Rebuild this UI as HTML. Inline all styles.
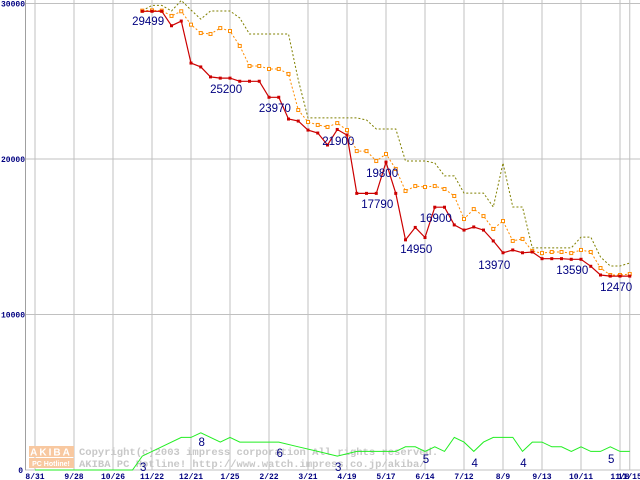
<!DOCTYPE html>
<html><head><meta charset="utf-8"><style>
html,body{margin:0;padding:0;background:#fff;width:640px;height:480px;overflow:hidden}
svg{display:block}
</style></head><body>
<svg id="chart" width="640" height="480" xmlns="http://www.w3.org/2000/svg">
<g id="grid"></g>
<g id="wm">
 <rect x="29" y="446" width="45" height="11" fill="#f8c8a0"/>
 <text x="51" y="455.5" font-family="Liberation Sans, sans-serif" font-size="10" font-weight="bold" fill="#fff" text-anchor="middle" letter-spacing="2">AKIBA</text>
 <rect x="29" y="458" width="45" height="10" fill="#f8c8a0"/>
 <text x="51" y="466" font-family="Liberation Sans, sans-serif" font-size="7" font-weight="bold" fill="#fff" text-anchor="middle">PC Hotline!</text>
 <text x="79" y="455" font-family="Liberation Mono, monospace" font-size="10.5" font-weight="bold" fill="#c8c8c8">Copyright(c)2003 impress corporation All rights reserved.</text>
 <text x="79" y="467" font-family="Liberation Mono, monospace" font-size="10.5" font-weight="bold" fill="#c8c8c8">AKIBA PC Hotline!  http://www.watch.impress.co.jp/akiba/</text>
</g>
<g id="series"></g>
<g id="labels"></g>
</svg>
<script>
const weeks = [11,12,13,14,15,16,17,18,19,20,21,22,23,24,25,26,27,28,29,30,31,32,33,34,35,36,37,38,39,40,41,42,43,44,45,46,47,48,49,50,51,52,53,54,55,56,57,58,59,60,61];
const redVals = [29499,29499,29499,28570,28870,26170,25920,25280,25200,25200,25000,25000,25000,23970,23970,22570,22440,21860,21670,20900,21900,21540,17790,17790,17790,19800,17790,14800,15600,14950,16900,16900,15760,15430,15630,15430,14730,13970,14150,13970,14020,13590,13590,13590,13550,13550,13100,12540,12470,12470,12470];
const orangeVals = [29540,29560,29540,29200,29500,28640,28100,28040,28420,28230,27270,25980,25980,25790,25790,25470,23150,22380,22190,22060,22310,21860,20510,20510,19870,20320,19360,17940,18260,18200,18260,18070,17620,16140,16780,16330,15500,16010,14730,14860,14080,13950,14020,14020,13950,14150,14020,12990,12540,12540,12600];
const oliveVals = [29540,29880,29880,29520,30200,29580,29000,29520,29520,29520,29070,28040,28040,28040,28040,28040,25080,22640,22640,22640,22640,22640,22640,22510,21930,21930,21930,19870,19870,19870,19740,18910,18910,17810,17810,17810,16910,19740,16910,16910,14280,14280,14280,14280,14280,14980,14980,13700,13120,13120,13310];
const countWeeks = [0,10,11,15,16,17,19,20,21,25,27,29,31,33,37,38,39,40,41,42,43,44,45,46,47,49,50,51,52,53,54,55,56,57,58,59,60,61];
const countVals = [0,0,3,7,7,8,6,7,6,6,5,4,3,4,4,5,5,4,5,4,7,6,4,6,7,7,4,6,6,5,5,4,5,4,4,5,4,4];
const xTickWeeks = [0,4,8,12,16,20,24,28,32,36,40,44,48,52,56,60,61];
const xTickLabels = ["8/31","9/28","10/26","11/22","12/21","1/25","2/22","3/21","4/19","5/17","6/14","7/12","8/9","9/13","10/11","11/8","11/15"];
const yTicks = [0,10000,20000,30000];
const priceLabelWeeks = [11.5,19.5,24.5,31,35.5,35,39,41,47,55,59.5];
const priceLabelVals = [29499,25200,23970,21900,19800,17790,14950,16900,13970,13590,12470];
const priceLabelYs = [21,89,108,141,173,204,249,218,265,270,287];
const countLabelWeeks = [11,17,25,31,40,45,50,59];
const countLabelVals = [3,8,6,3,5,4,4,5];
const countLabelYs = [467,442,453,467,459,463,463,459];

const NS="http://www.w3.org/2000/svg";
const X = w => 35 + w*9.75;
const Y = v => 470 - v*0.01555;
const YC = c => 470 - c*4.65;
function mk(tag, attrs, parent){const e=document.createElementNS(NS,tag);for(const k in attrs)e.setAttribute(k,attrs[k]);parent.appendChild(e);return e;}
const grid=document.getElementById('grid'), ser=document.getElementById('series'), lab=document.getElementById('labels');

yTicks.forEach(t=>{
  const l=mk('line',{x1:25,x2:640,y1:Y(t),y2:Y(t),stroke:'#c0c0c0','stroke-width':1},grid);
  
  
  const tx=mk('text',{x:t===0?23:25,y:Y(t)+3,'text-anchor':'end','font-family':'Liberation Mono, monospace','font-size':8,'font-weight':'bold',fill:'#000080'},lab);
  tx.textContent=String(t);
  
  
});
const ax=mk('line',{x1:25.5,x2:25.5,y1:0,y2:470,stroke:'#a0a0a0'},grid);


xTickWeeks.forEach((w,i)=>{
  const l=mk('line',{x1:X(w),x2:X(w),y1:0,y2:470,stroke:'#c0c0c0','stroke-width':1},grid);
  
  
  const tx=mk('text',{x:X(w),y:479,'text-anchor':'middle','font-family':'Liberation Mono, monospace','font-size':8,'font-weight':'bold',fill:'#000080'},lab);
  tx.textContent=xTickLabels[i];
  
  
});

function pts(ws,vs,f){return ws.map((w,i)=>X(w).toFixed(1)+','+f(vs[i]).toFixed(1)).join(' ');}
const g=mk('polyline',{points:pts(countWeeks,countVals,YC),fill:'none',stroke:'#22ee22','stroke-width':1},ser);


const o=mk('polyline',{points:pts(weeks,oliveVals,Y),fill:'none',stroke:'#808000','stroke-width':1,'stroke-dasharray':'2,2'},ser);


const or=mk('polyline',{points:pts(weeks,orangeVals,Y),fill:'none',stroke:'#ff8c00','stroke-width':1,'stroke-dasharray':'2,2'},ser);


weeks.forEach((w,i)=>{
  const r=mk('rect',{x:X(w)-1.5,y:Y(orangeVals[i])-1.5,width:3,height:3,fill:'#fff',stroke:'#ff8c00','stroke-width':1},ser);
  
  
});
const rd=mk('polyline',{points:pts(weeks,redVals,Y),fill:'none',stroke:'#cc0000','stroke-width':1.2},ser);


weeks.forEach((w,i)=>{
  const r=mk('rect',{x:X(w)-1.5,y:Y(redVals[i])-1.5,width:3,height:3,fill:'#cc0000'},ser);
  
  
});
priceLabelWeeks.forEach((w,i)=>{
  const tx=mk('text',{x:X(w)+1,y:priceLabelYs[i]+4,'text-anchor':'middle','font-family':'Liberation Sans, sans-serif','font-size':11.5,fill:'#000080'},lab);
  tx.textContent=String(priceLabelVals[i]);
  
  
});
countLabelWeeks.forEach((w,i)=>{
  const tx=mk('text',{x:X(w)+1,y:countLabelYs[i]+4,'text-anchor':'middle','font-family':'Liberation Sans, sans-serif','font-size':11.5,fill:'#000080'},lab);
  tx.textContent=String(countLabelVals[i]);
  
  
});
</script>
</body></html>
